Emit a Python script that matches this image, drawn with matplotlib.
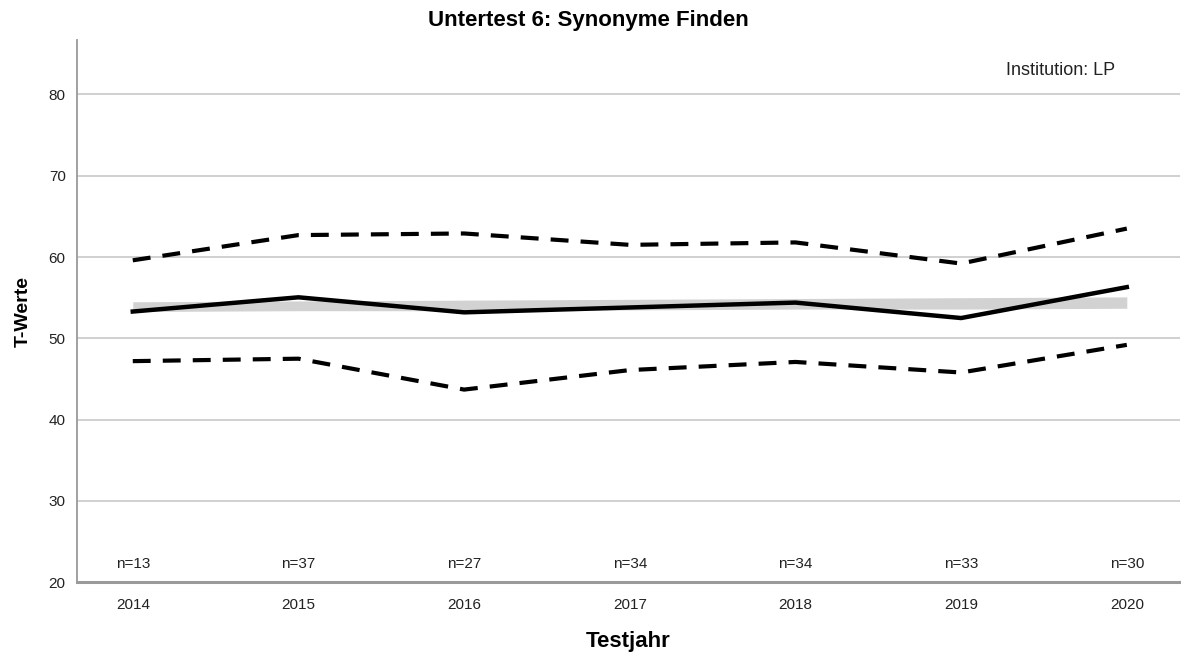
import matplotlib
matplotlib.use("Agg")
import matplotlib.pyplot as plt

years = [2014, 2015, 2016, 2017, 2018, 2019, 2020]
mean_t = [53.3, 55.05, 53.2, 53.8, 54.4, 52.5, 56.3]
upper_t = [59.6, 62.7, 62.9, 61.5, 61.8, 59.2, 63.5]
lower_t = [47.2, 47.5, 43.7, 46.1, 47.1, 45.8, 49.2]
band_lo = [53.3, 53.4, 53.4, 53.5, 53.6, 53.6, 53.7]
band_hi = [54.5, 54.6, 54.7, 54.8, 54.9, 55.0, 55.1]
n_labels = ["n=13", "n=37", "n=27", "n=34", "n=34", "n=33", "n=30"]
yticks = [20, 30, 40, 50, 60, 70, 80]

plt.rcParams["font.family"] = ["Liberation Sans", "DejaVu Sans"]

fig = plt.figure(figsize=(11.81, 6.55), dpi=100)
ax = fig.add_axes([0.065, 0.111, 0.934, 0.828])

ax.fill_between(years, band_lo, band_hi, color="#d2d2d2", linewidth=0, zorder=2)
ax.plot(years, mean_t, color="black", linewidth=3.2, zorder=4)
for vals in (upper_t, lower_t):
    ax.plot(years, vals, color="black", linewidth=3.0, dashes=(4.3, 2.9),
            dash_capstyle="butt", zorder=3)

ax.set_xlim(2013.662, 2020.32)
ax.set_ylim(20, 86.7)
ax.set_yticks(yticks)
ax.set_xticks(years)
ax.tick_params(axis="both", length=0, colors="#222222", labelsize=11)
ax.tick_params(axis="x", pad=11)
ax.tick_params(axis="y", pad=8)
ax.yaxis.grid(True, color="#c8c8c8", linewidth=1.2)
ax.set_axisbelow(True)
for s in ("top", "right"):
    ax.spines[s].set_visible(False)
ax.spines["left"].set_color("#9a9a9a")
ax.spines["left"].set_linewidth(1.3)
ax.spines["bottom"].set_color("#9a9a9a")
ax.spines["bottom"].set_linewidth(2.2)

for x, lab in zip(years, n_labels):
    ax.text(x, 22.3, lab, ha="center", va="center", fontsize=11, color="#222222")

ax.text(0.892, 0.943, "Institution: LP", transform=ax.transAxes, ha="center",
        va="center", fontsize=13, color="#222222")

fig.text(0.498, 0.968, "Untertest 6: Synonyme Finden", ha="center", va="center",
         fontsize=16, fontweight="bold")
ax.set_xlabel("Testjahr", fontsize=16, fontweight="bold", labelpad=14)
ax.set_ylabel("T-Werte", fontsize=14, fontweight="bold", labelpad=12)

fig.savefig("out.png", dpi=100)
